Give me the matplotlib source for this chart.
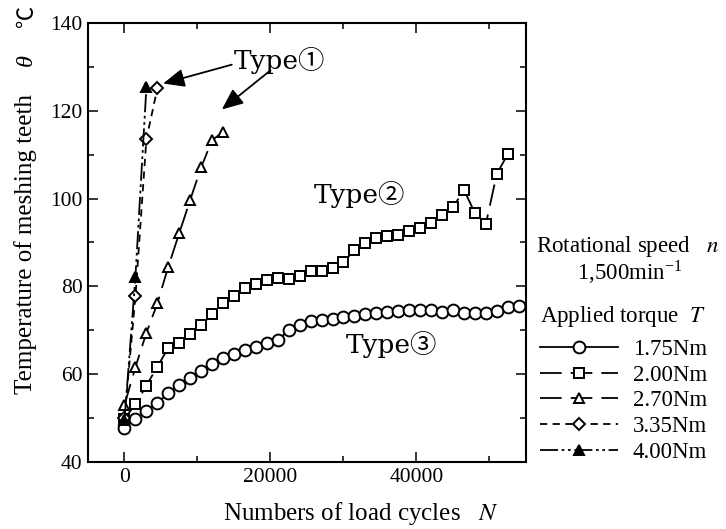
import numpy as np
import matplotlib
matplotlib.use("Agg")
import matplotlib.pyplot as plt

plt.rcParams["font.family"] = ["Liberation Serif", "Noto Sans CJK JP"]
plt.rcParams["mathtext.fontset"] = "stix"

# load cycles step 1500
step = 1500

temp_175 = [47.8, 49.7, 51.5, 53.5, 55.6, 57.5, 59.2, 60.8, 62.3, 63.6, 64.5, 65.4,
            66.1, 67.0, 67.8, 70.0, 71.2, 72.0, 72.3, 72.5, 73.0, 73.3, 73.6, 73.9,
            74.2, 74.5, 74.6, 74.6, 74.6, 74.2, 74.6, 73.9, 73.9, 74.0, 74.3, 75.2, 75.6]
temp_200 = [49.9, 53.1, 57.4, 61.7, 66.0, 67.2, 69.2, 71.1, 73.7, 76.2, 77.9, 79.6,
            80.6, 81.5, 82.0, 81.7, 82.4, 83.6, 83.6, 84.1, 85.5, 88.3, 89.8, 91.1,
            91.5, 91.7, 92.6, 93.4, 94.5, 96.3, 98.0, 102.0, 96.7, 94.2, 105.6, 110.1]
temp_270 = [53.0, 61.6, 69.4, 76.1, 84.5, 92.1, 99.7, 107.1, 113.3, 115.2]
temp_335 = [50.0, 77.8, 113.5, 125.1]
temp_400 = [49.5, 82.2, 125.3]

labels = ["1.75Nm", "2.00Nm", "2.70Nm", "3.35Nm", "4.00Nm"]

fig = plt.figure(figsize=(7.26, 5.29), dpi=100)
ax = fig.add_axes([0.1212, 0.1267, 0.6033, 0.8299])

series = [
    (temp_175, dict(marker="o", ms=8.5, ls="-")),
    (temp_200, dict(marker="s", ms=6.5, ls=(0, (12, 5)))),
    (temp_270, dict(marker="^", ms=7.5, ls=(0, (12, 5)))),
    (temp_335, dict(marker="D", ms=6.5, ls=(0, (4, 3)))),
    (temp_400, dict(marker="^", ms=7.5, ls=(0, (10, 2, 1.5, 2, 1.5, 2)), mfc="k")),
]

handles = []
for (temp, style), lab in zip(series, labels):
    n = np.arange(len(temp)) * step
    style.setdefault("mfc", "white")
    h, = ax.plot(n, temp, color="k", lw=1.3, mec="k", mew=1.4, label=lab, **style)
    handles.append(h)

ax.set_xlim(-5000, 55000)
ax.set_ylim(40, 140)
ax.set_xticks([0, 20000, 40000])
ax.set_xticks(np.arange(0, 55000, 10000), minor=True)
ax.set_yticks([40, 60, 80, 100, 120, 140])
ax.set_yticks(np.arange(40, 141, 10), minor=True)
ax.tick_params(which="both", direction="in", top=True, right=True, width=1.1,
               labelsize=15.5)
ax.tick_params(which="major", length=7.5, pad=4)
ax.tick_params(which="minor", length=4.5)
for s in ax.spines.values():
    s.set_linewidth(1.5)

# annotations
tfont = dict(family=["DejaVu Serif", "Noto Sans CJK JP"], fontsize=19)
ax.text(14900, 129.5, "Type①", ha="left", va="baseline", **tfont)
ax.text(25970, 99.0, "Type②", ha="left", va="baseline", **tfont)
ax.text(30340, 64.8, "Type③", ha="left", va="baseline", **tfont)
aprops = dict(arrowstyle="-|>,head_length=0.65,head_width=0.28", color="k", lw=1.3,
              mutation_scale=20, shrinkA=0, shrinkB=0)
ax.annotate("", xy=(5290, 126.2), xytext=(14700, 130.5), arrowprops=aprops)
ax.annotate("", xy=(13340, 120.3), xytext=(20000, 129.2), arrowprops=aprops)

# y label in pieces: text, italic theta, degree sign
fig.text(26 / 726, 1 - 394 / 529, "Temperature of meshing teeth", rotation=90,
         ha="center", va="bottom", fontsize=18)
fig.text(26 / 726, 1 - 60 / 529, "θ", rotation=90, ha="center", va="center",
         fontsize=17.5, style="italic")
fig.text(27 / 726, 1 - 16 / 529, "℃", rotation=90, ha="center", va="center",
         fontsize=16, family="Noto Sans CJK JP")

fig.text(361 / 726, 1 - 520 / 529, "Numbers of load cycles   $N$",
         ha="center", va="baseline", fontsize=18)

fig.text(628 / 726, 1 - 252 / 529, "Rotational speed   $n$", ha="center",
         va="baseline", fontsize=16.5)
fig.text(630 / 726, 1 - 280 / 529, "1,500min$^{\\mathregular{-1}}$", ha="center",
         va="baseline", fontsize=16.5)
fig.text(540 / 726, 1 - 322 / 529, "Applied torque  $T$", ha="left",
         va="baseline", fontsize=16.5)

leg = fig.legend(handles=handles, labels=labels, loc="upper left",
                 bbox_to_anchor=(540 / 726, 1 - 339 / 529), frameon=False,
                 fontsize=16.5, handlelength=3.4, handletextpad=0.65,
                 labelspacing=0.2, borderpad=0, borderaxespad=0, numpoints=1)

fig.savefig("out.png", dpi=100)
